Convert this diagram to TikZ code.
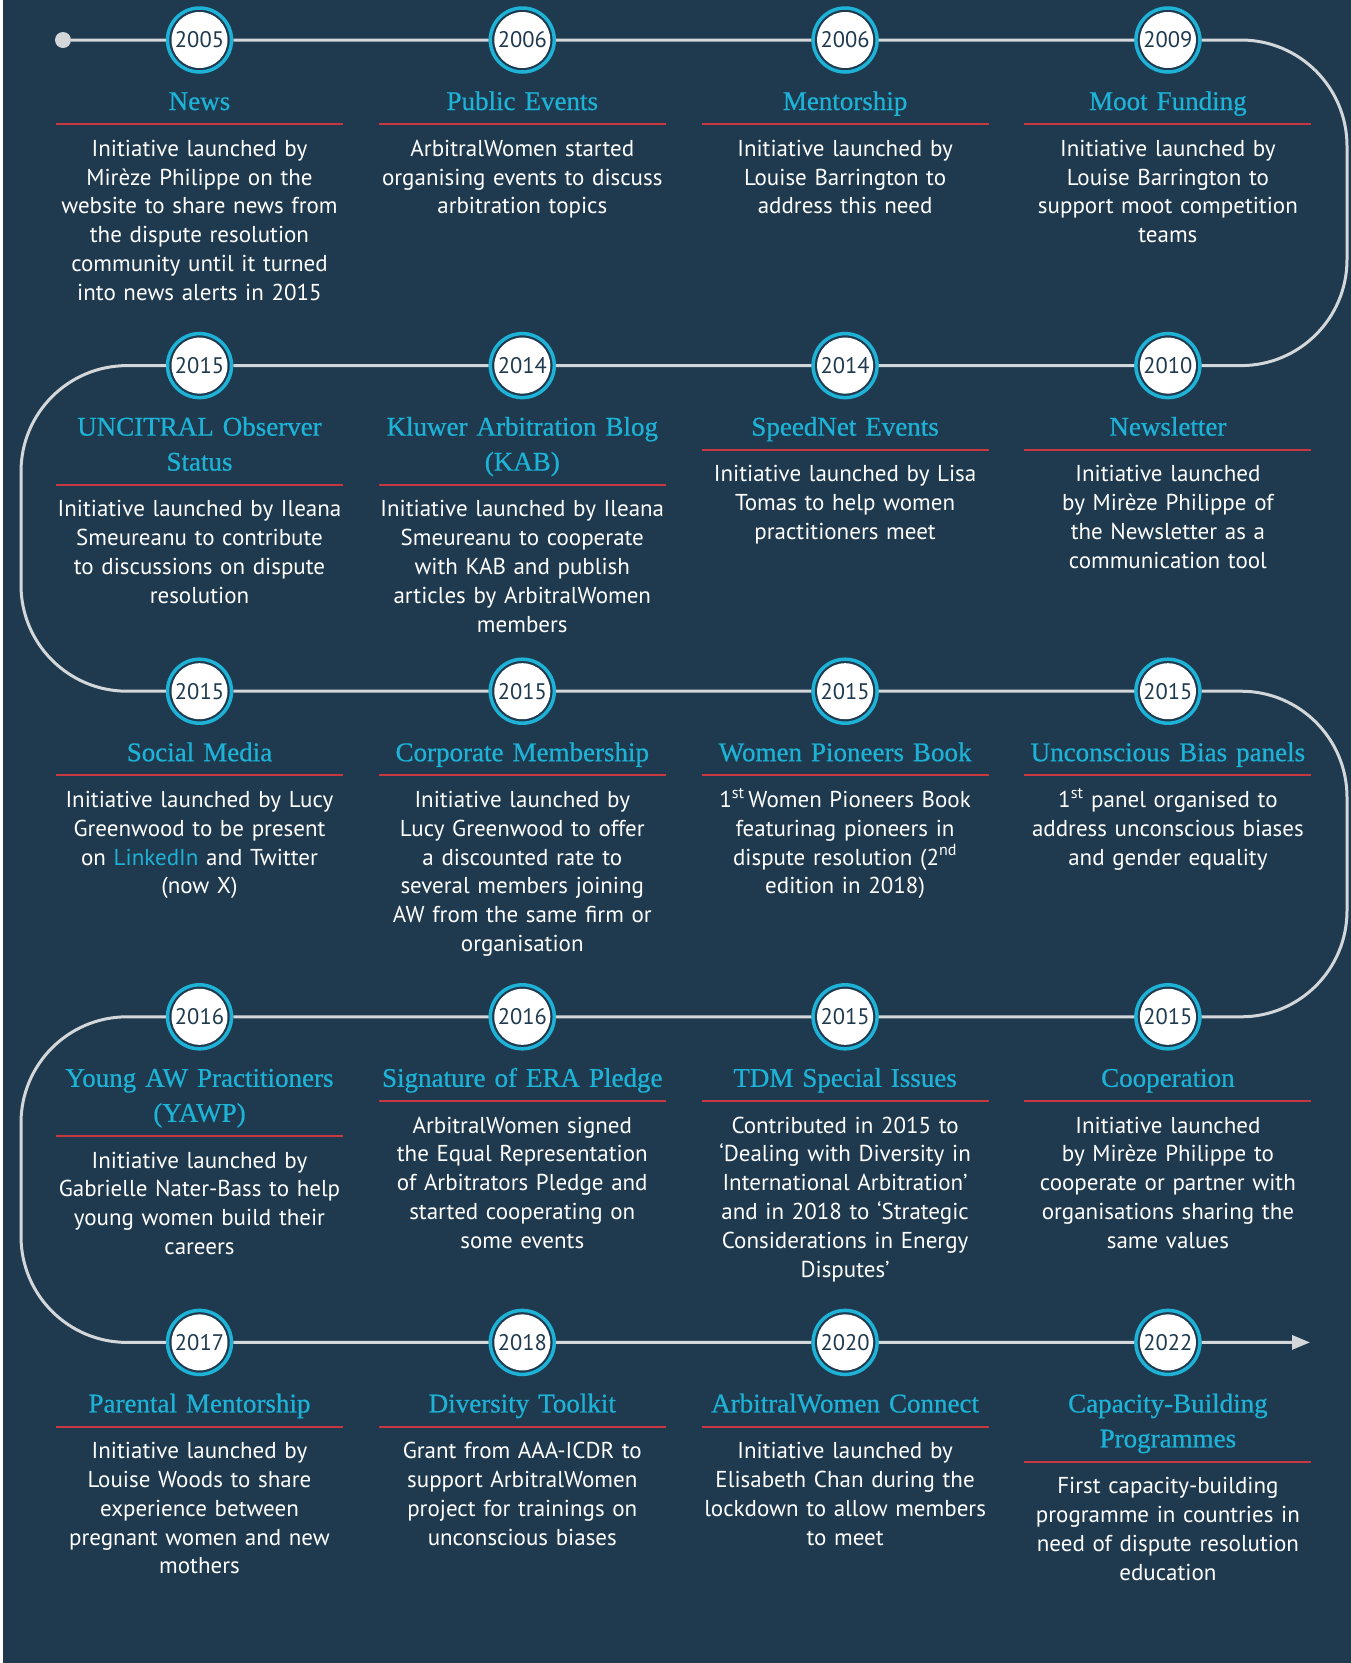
\documentclass[tikz,border=0pt]{standalone}
\usepackage{fontspec}
\usepackage{tikz}
\usetikzlibrary{positioning,arrows.meta}
\newfontfamily\bodyfont{PT Sans}
\newfontfamily\headfont[FakeBold=0.7]{Liberation Serif}
\definecolor{navy}{HTML}{1F3A4F}
\definecolor{aqua}{HTML}{1DB2D6}
\definecolor{brick}{HTML}{C9373F}
\definecolor{pale}{HTML}{D4D7DA}

\begin{document}
\begin{tikzpicture}[x=1pt, y=1pt, node distance={322.8pt},
		year/.style={circle, draw=aqua, line width=3.5pt, fill=navy, minimum size=64pt, inner sep=0pt,
			text=navy, font=\bodyfont\fontsize{22.5}{22.5}\selectfont,
			path picture={\fill[white] (path picture bounding box.center) circle (28pt);}},
		dot/.style={circle, fill=pale, minimum size=16pt, inner sep=0pt},
		head/.style={anchor=base, text width=320pt, align=center, inner sep=0pt, text=aqua,
			font=\headfont\fontsize{27}{35}\selectfont, execute at end node={\rule[-14pt]{0pt}{0pt}}},
		desc/.style={anchor=base, text width=320pt, align=center, inner sep=0pt, text=white,
			font=\bodyfont\fontsize{23}{28.8}\selectfont},
		redline/.style={draw=brick, line width=2pt},
		trackline/.style={draw=pale, line width=3pt, rounded corners=106pt}]

		% background
		\fill[white] (0,0) rectangle (1351,-1663);
		\fill[navy] (3,0) rectangle (1351,-1663);

		% years along the track
		\node[dot] (start) at (63,-40) {};
		\node[year] (1) at (199.5,-40) {2005};
		\node[year] (2) [right of=1] {2006};
		\node[year] (3) [right of=2] {2006};
		\node[year] (4) [right of=3] {2009};
		\node[year] (5) [below of=4, node distance=325.6pt] {2010};
		\node[year] (6) [left of=5] {2014};
		\node[year] (7) [left of=6] {2014};
		\node[year] (8) [left of=7] {2015};
		\node[year] (9) [below of=8, node distance=325.6pt] {2015};
		\node[year] (10) [right of=9] {2015};
		\node[year] (11) [right of=10] {2015};
		\node[year] (12) [right of=11] {2015};
		\node[year] (13) [below of=12, node distance=325.6pt] {2015};
		\node[year] (14) [left of=13] {2015};
		\node[year] (15) [left of=14] {2016};
		\node[year] (16) [left of=15] {2016};
		\node[year] (17) [below of=16, node distance=325.6pt] {2017};
		\node[year] (18) [right of=17] {2018};
		\node[year] (19) [right of=18] {2020};
		\node[year] (20) [right of=19] {2022};

		\coordinate (c1) at (1347,-40);
		\coordinate (c2) at (1347,-365.6);
		\coordinate (c3) at (21,-365.6);
		\coordinate (c4) at (21,-691.2);
		\coordinate (c5) at (1347,-691.2);
		\coordinate (c6) at (1347,-1016.8);
		\coordinate (c7) at (21,-1016.8);
		\coordinate (c8) at (21,-1342.4);
		\coordinate (end) at (1310,-1342.4);

		\draw[trackline] (start) -- (1) -- (2) -- (3) -- (4) -- (c1) -- (c2) -- (5) -- (6) -- (7) -- (8)
			-- (c3) -- (c4) -- (9) -- (10) -- (11) -- (12) -- (c5) -- (c6) -- (13) -- (14) -- (15) -- (16)
			-- (c7) -- (c8) -- (17) -- (18) -- (19) -- (20);
		\draw[trackline, -{Triangle[length=18pt, width=14pt]}] (20) -- (end);

		% titles
		\node[head] (h1) at ([yshift=-70pt]1.center) {News};
		\node[head] (h2) at ([yshift=-70pt]2.center) {Public Events};
		\node[head] (h3) at ([yshift=-70pt]3.center) {Mentorship};
		\node[head] (h4) at ([yshift=-70pt]4.center) {Moot Funding};
		\node[head] (h5) at ([yshift=-70pt]5.center) {Newsletter};
		\node[head] (h6) at ([yshift=-70pt]6.center) {SpeedNet Events};
		\node[head] (h7) at ([yshift=-70pt]7.center) {Kluwer Arbitration Blog\\(KAB)};
		\node[head] (h8) at ([yshift=-70pt]8.center) {UNCITRAL Observer\\Status};
		\node[head] (h9) at ([yshift=-70pt]9.center) {Social Media};
		\node[head] (h10) at ([yshift=-70pt]10.center) {Corporate Membership};
		\node[head] (h11) at ([yshift=-70pt]11.center) {Women Pioneers Book};
		\node[head] (h12) at ([yshift=-70pt]12.center) {Unconscious Bias panels};
		\node[head] (h13) at ([yshift=-70pt]13.center) {Cooperation};
		\node[head] (h14) at ([yshift=-70pt]14.center) {TDM Special Issues};
		\node[head] (h15) at ([yshift=-70pt]15.center) {Signature of ERA Pledge};
		\node[head] (h16) at ([yshift=-70pt]16.center) {Young AW Practitioners\\(YAWP)};
		\node[head] (h17) at ([yshift=-70pt]17.center) {Parental Mentorship};
		\node[head] (h18) at ([yshift=-70pt]18.center) {Diversity Toolkit};
		\node[head] (h19) at ([yshift=-70pt]19.center) {ArbitralWomen Connect};
		\node[head] (h20) at ([yshift=-70pt]20.center) {Capacity-Building\\Programmes};

		% red rules under the titles
		\draw[redline] ([xshift=-143.5pt]h1.south) -- ([xshift=143.5pt]h1.south);
		\draw[redline] ([xshift=-143.5pt]h2.south) -- ([xshift=143.5pt]h2.south);
		\draw[redline] ([xshift=-143.5pt]h3.south) -- ([xshift=143.5pt]h3.south);
		\draw[redline] ([xshift=-143.5pt]h4.south) -- ([xshift=143.5pt]h4.south);
		\draw[redline] ([xshift=-143.5pt]h5.south) -- ([xshift=143.5pt]h5.south);
		\draw[redline] ([xshift=-143.5pt]h6.south) -- ([xshift=143.5pt]h6.south);
		\draw[redline] ([xshift=-143.5pt]h7.south) -- ([xshift=143.5pt]h7.south);
		\draw[redline] ([xshift=-143.5pt]h8.south) -- ([xshift=143.5pt]h8.south);
		\draw[redline] ([xshift=-143.5pt]h9.south) -- ([xshift=143.5pt]h9.south);
		\draw[redline] ([xshift=-143.5pt]h10.south) -- ([xshift=143.5pt]h10.south);
		\draw[redline] ([xshift=-143.5pt]h11.south) -- ([xshift=143.5pt]h11.south);
		\draw[redline] ([xshift=-143.5pt]h12.south) -- ([xshift=143.5pt]h12.south);
		\draw[redline] ([xshift=-143.5pt]h13.south) -- ([xshift=143.5pt]h13.south);
		\draw[redline] ([xshift=-143.5pt]h14.south) -- ([xshift=143.5pt]h14.south);
		\draw[redline] ([xshift=-143.5pt]h15.south) -- ([xshift=143.5pt]h15.south);
		\draw[redline] ([xshift=-143.5pt]h16.south) -- ([xshift=143.5pt]h16.south);
		\draw[redline] ([xshift=-143.5pt]h17.south) -- ([xshift=143.5pt]h17.south);
		\draw[redline] ([xshift=-143.5pt]h18.south) -- ([xshift=143.5pt]h18.south);
		\draw[redline] ([xshift=-143.5pt]h19.south) -- ([xshift=143.5pt]h19.south);
		\draw[redline] ([xshift=-143.5pt]h20.south) -- ([xshift=143.5pt]h20.south);

		% descriptions
		\node[desc] (d1) at ([yshift=-32pt]h1.south) {Initiative launched by\\Mirèze Philippe on the\\website to share news from\\the dispute resolution\\community until it turned\\into news alerts in 2015};
		\node[desc] (d2) at ([yshift=-32pt]h2.south) {ArbitralWomen started\\organising events to discuss\\arbitration topics};
		\node[desc] (d3) at ([yshift=-32pt]h3.south) {Initiative launched by\\Louise Barrington to\\address this need};
		\node[desc] (d4) at ([yshift=-32pt]h4.south) {Initiative launched by\\Louise Barrington to\\support moot competition\\teams};
		\node[desc] (d5) at ([yshift=-32pt]h5.south) {Initiative launched\\by Mirèze Philippe of\\the Newsletter as a\\communication tool};
		\node[desc] (d6) at ([yshift=-32pt]h6.south) {Initiative launched by Lisa\\Tomas to help women\\practitioners meet};
		\node[desc] (d7) at ([yshift=-32pt]h7.south) {Initiative launched by Ileana\\Smeureanu to cooperate\\with KAB and publish\\articles by ArbitralWomen\\members};
		\node[desc] (d8) at ([yshift=-32pt]h8.south) {Initiative launched by Ileana\\Smeureanu to contribute\\to discussions on dispute\\resolution};
		\node[desc] (d9) at ([yshift=-32pt]h9.south) {Initiative launched by Lucy\\Greenwood to be present\\on {\color{aqua}LinkedIn} and Twitter\\(now X)};
		\node[desc] (d10) at ([yshift=-32pt]h10.south) {Initiative launched by\\Lucy Greenwood to offer\\a discounted rate to\\several members joining\\AW from the same firm or\\organisation};
		\node[desc] (d11) at ([yshift=-32pt]h11.south) {1\textsuperscript{st}\,Women Pioneers Book\\featurinag pioneers in\\dispute resolution (2\textsuperscript{nd}\\edition in 2018)};
		\node[desc] (d12) at ([yshift=-32pt]h12.south) {1\textsuperscript{st} panel organised to\\address unconscious biases\\and gender equality};
		\node[desc] (d13) at ([yshift=-32pt]h13.south) {Initiative launched\\by Mirèze Philippe to\\cooperate or partner with\\organisations sharing the\\same values};
		\node[desc] (d14) at ([yshift=-32pt]h14.south) {Contributed in 2015 to\\‘Dealing with Diversity in\\International Arbitration’\\and in 2018 to ‘Strategic\\Considerations in Energy\\Disputes’};
		\node[desc] (d15) at ([yshift=-32pt]h15.south) {ArbitralWomen signed\\the Equal Representation\\of Arbitrators Pledge and\\started cooperating on\\some events};
		\node[desc] (d16) at ([yshift=-32pt]h16.south) {Initiative launched by\\Gabrielle Nater-Bass to help\\young women build their\\careers};
		\node[desc] (d17) at ([yshift=-32pt]h17.south) {Initiative launched by\\Louise Woods to share\\experience between\\pregnant women and new\\mothers};
		\node[desc] (d18) at ([yshift=-32pt]h18.south) {Grant from AAA-ICDR to\\support ArbitralWomen\\project for trainings on\\unconscious biases};
		\node[desc] (d19) at ([yshift=-32pt]h19.south) {Initiative launched by\\Elisabeth Chan during the\\lockdown to allow members\\to meet};
		\node[desc] (d20) at ([yshift=-32pt]h20.south) {First capacity-building\\programme in countries in\\need of dispute resolution\\education};
	\end{tikzpicture}
\end{document}
